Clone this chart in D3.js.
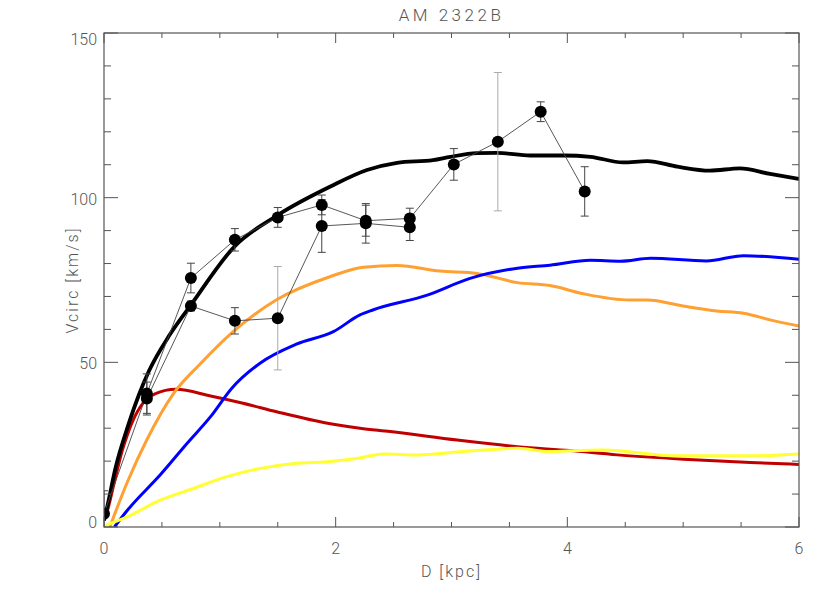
<!DOCTYPE html>
<html>
<head>
<meta charset="utf-8">
<script src="https://cdn.jsdelivr.net/npm/d3@7"></script>
<style>
  body { margin: 0; background: #fff; }
  text { font-family: Roboto, "DejaVu Sans", sans-serif; font-weight: 300; fill: #555; }
</style>
</head>
<body>
<div id="chart"></div>
<script>
// rotation curve of AM 2322B
const title = "AM  2322B";
const xTicks = [0, 2, 4, 6];
const yTicks = [0, 50, 100, 150];

// observed points, two sides of the galaxy
const sideA_r   = [0.00, 0.37, 0.75, 1.13, 1.50, 1.88, 2.26, 2.64, 3.02, 3.40, 3.77, 4.15];
const sideA_v   = [4.0, 40.5, 75.6, 87.2, 94.0, 97.8, 93.0, 93.7, 110.1, 117.0, 126.1, 101.9];
const sideA_err = [7.0, 6.0, 4.5, 3.4, 3.0, 3.0, 4.7, 3.1, 4.8, 21.0, 3.0, 7.5];

const sideB_r   = [0.37, 0.75, 1.13, 1.50, 1.88, 2.26, 2.64];
const sideB_v   = [39.0, 67.1, 62.6, 63.4, 91.4, 92.2, 91.0];
const sideB_err = [5.0, 1.5, 4.0, 15.7, 8.0, 6.0, 4.0];

// model components
const totalR = [0.0, 0.03, 0.1, 0.21, 0.3, 0.39, 0.57, 0.75, 1.13, 1.5, 1.95, 2.27, 2.53, 2.84, 2.99, 3.22, 3.39, 3.68, 3.97, 4.2, 4.48, 4.69, 4.95, 5.23, 5.49, 5.75, 6.0];
const totalV = [2.0, 6.5, 18.0, 31.0, 40.0, 47.5, 58.5, 67.4, 85.3, 94.7, 103.3, 108.4, 110.6, 111.4, 112.4, 113.5, 113.6, 112.8, 112.8, 112.4, 110.7, 111.1, 109.4, 108.2, 108.9, 107.2, 105.7];

const bulgeR = [0.0, 0.03, 0.08, 0.16, 0.2, 0.27, 0.31, 0.44, 0.62, 0.92, 1.2, 1.49, 1.93, 2.21, 2.47, 3.05, 3.57, 4.02, 4.43, 5.0, 5.58, 6.0];
const bulgeV = [2.0, 5.0, 12.2, 23.5, 27.8, 33.8, 36.3, 40.4, 41.8, 39.8, 37.6, 35.0, 31.5, 30.0, 29.0, 26.4, 24.4, 23.2, 21.9, 20.6, 19.6, 19.0];

const diskR = [0.05, 0.2, 0.37, 0.6, 0.83, 1.12, 1.49, 1.95, 2.24, 2.53, 2.9, 3.22, 3.57, 3.85, 4.14, 4.54, 4.69, 5.0, 5.29, 5.52, 5.75, 6.0];
const diskV = [0.0, 13.5, 26.5, 40.5, 49.5, 59.5, 69.0, 76.0, 78.9, 79.4, 77.7, 77.0, 74.2, 73.3, 70.8, 68.9, 68.9, 67.1, 65.6, 64.9, 62.9, 61.0];

const haloR = [0.09, 0.2, 0.49, 0.72, 0.92, 1.1, 1.35, 1.66, 1.98, 2.21, 2.32, 2.79, 3.16, 3.57, 3.85, 4.2, 4.46, 4.72, 5.2, 5.52, 6.0];
const haloV = [0.0, 5.0, 16.0, 25.5, 33.5, 42.0, 49.8, 55.5, 59.3, 64.4, 65.9, 70.4, 75.5, 78.6, 79.5, 81.0, 80.7, 81.6, 80.8, 82.4, 81.3];

const gasR = [0.01, 0.2, 0.49, 0.77, 1.06, 1.35, 1.64, 1.93, 2.18, 2.41, 2.7, 3.1, 3.57, 3.85, 4.08, 4.31, 4.95, 5.58, 6.0];
const gasV = [0.5, 3.1, 8.2, 11.7, 15.3, 17.8, 19.3, 19.8, 20.8, 22.2, 21.9, 22.9, 23.9, 22.9, 23.2, 23.4, 21.6, 21.6, 22.2];

const width = 830, height = 593;
const margin = { top: 33, right: 31, bottom: 66, left: 104 };
const plotW = width - margin.left - margin.right;
const plotH = height - margin.top - margin.bottom;
const axisColor = "#555";

const svg = d3.select("#chart").append("svg")
    .attr("width", width)
    .attr("height", height);

const x = d3.scaleLinear().domain([0, 6]).range([margin.left, margin.left + plotW]);
const y = d3.scaleLinear().domain([0, 150]).range([margin.top + plotH, margin.top]);

svg.append("clipPath").attr("id", "plotclip")
    .append("rect")
    .attr("x", margin.left).attr("y", margin.top)
    .attr("width", plotW).attr("height", plotH);

// model curves
const line = d3.line()
    .x(d => x(d[0]))
    .y(d => y(d[1]))
    .curve(d3.curveMonotoneX);

const curves = [
    { r: bulgeR, v: bulgeV, color: "#c00000", w: 3 },
    { r: diskR, v: diskV, color: "#ffa033", w: 3 },
    { r: haloR, v: haloV, color: "#0000ff", w: 3 },
    { r: gasR, v: gasV, color: "#ffff33", w: 3 },
    { r: totalR, v: totalV, color: "#000000", w: 3.8 }
];

const curveG = svg.append("g").attr("clip-path", "url(#plotclip)");
curves.forEach(c => {
    curveG.append("path")
        .datum(d3.zip(c.r, c.v))
        .attr("fill", "none")
        .attr("stroke", c.color)
        .attr("stroke-width", c.w)
        .attr("stroke-linejoin", "round")
        .attr("d", line);
});

// observed data
const sides = [
    d3.zip(sideA_r, sideA_v, sideA_err),
    d3.zip(sideB_r, sideB_v, sideB_err)
];

const dataG = svg.append("g").attr("clip-path", "url(#plotclip)");
const thin = d3.line().x(d => x(d[0])).y(d => y(d[1]));

sides.forEach(pts => {
    dataG.append("path")
        .datum(pts)
        .attr("fill", "none")
        .attr("stroke", "#444")
        .attr("stroke-width", 0.9)
        .attr("d", thin);

    const eb = dataG.append("g").selectAll("g")
        .data(pts)
        .enter().append("g")
        .attr("stroke", d => d[2] > 10 ? "#aaa" : "#444")
        .attr("stroke-width", 1);
    eb.append("line")
        .attr("x1", d => x(d[0])).attr("x2", d => x(d[0]))
        .attr("y1", d => y(d[1] - d[2])).attr("y2", d => y(d[1] + d[2]));
    eb.append("line")
        .attr("x1", d => x(d[0]) - 4).attr("x2", d => x(d[0]) + 4)
        .attr("y1", d => y(d[1] - d[2])).attr("y2", d => y(d[1] - d[2]));
    eb.append("line")
        .attr("x1", d => x(d[0]) - 4).attr("x2", d => x(d[0]) + 4)
        .attr("y1", d => y(d[1] + d[2])).attr("y2", d => y(d[1] + d[2]));
});

sides.forEach(pts => {
    dataG.append("g").selectAll("circle")
        .data(pts)
        .enter().append("circle")
        .attr("cx", d => x(d[0]))
        .attr("cy", d => y(d[1]))
        .attr("r", 6)
        .attr("fill", "#000");
});

// frame and ticks (inward, on all four sides)
svg.append("rect")
    .attr("x", margin.left).attr("y", margin.top)
    .attr("width", plotW).attr("height", plotH)
    .attr("fill", "none")
    .attr("stroke", axisColor)
    .attr("stroke-width", 1.2);

const tickG = svg.append("g").attr("stroke", axisColor).attr("stroke-width", 1);
d3.range(0, 6.01, 0.5).forEach(v => {
    const major = xTicks.includes(v);
    const len = major ? 10 : 5;
    tickG.append("line").attr("x1", x(v)).attr("x2", x(v))
        .attr("y1", y(0)).attr("y2", y(0) - len);
    tickG.append("line").attr("x1", x(v)).attr("x2", x(v))
        .attr("y1", y(150)).attr("y2", y(150) + len);
});
d3.range(0, 151, 10).forEach(v => {
    const major = yTicks.includes(v);
    const len = major ? 14 : 7;
    tickG.append("line").attr("y1", y(v)).attr("y2", y(v))
        .attr("x1", x(0)).attr("x2", x(0) + len);
    tickG.append("line").attr("y1", y(v)).attr("y2", y(v))
        .attr("x1", x(6)).attr("x2", x(6) - len);
});

// tick labels
svg.append("g").selectAll("text")
    .data(xTicks)
    .enter().append("text")
    .attr("x", d => x(d))
    .attr("y", y(0) + 27)
    .attr("text-anchor", "middle")
    .style("font-size", "16px")
    .text(d => d);

svg.append("g").selectAll("text")
    .data(yTicks)
    .enter().append("text")
    .attr("x", x(0) - 7)
    .attr("y", d => Math.min(Math.max(y(d) + 1.5, margin.top + 6.5), margin.top + plotH - 4.5))
    .attr("dy", "0.35em")
    .attr("text-anchor", "end")
    .style("font-size", "16px")
    .text(d => d);

// titles
svg.append("text")
    .attr("x", margin.left + plotW / 2)
    .attr("y", 21)
    .attr("text-anchor", "middle")
    .style("font-size", "17px")
    .style("letter-spacing", "3.5px")
    .text(title);

svg.append("text")
    .attr("x", margin.left + plotW / 2)
    .attr("y", 577)
    .attr("text-anchor", "middle")
    .style("font-size", "16px")
    .style("letter-spacing", "2px")
    .text("D [kpc]");

svg.append("text")
    .attr("transform", "translate(78," + (margin.top + plotH / 2) + ") rotate(-90)")
    .attr("text-anchor", "middle")
    .style("font-size", "16px")
    .style("letter-spacing", "2px")
    .text("Vcirc [km/s]");
</script>
</body>
</html>
